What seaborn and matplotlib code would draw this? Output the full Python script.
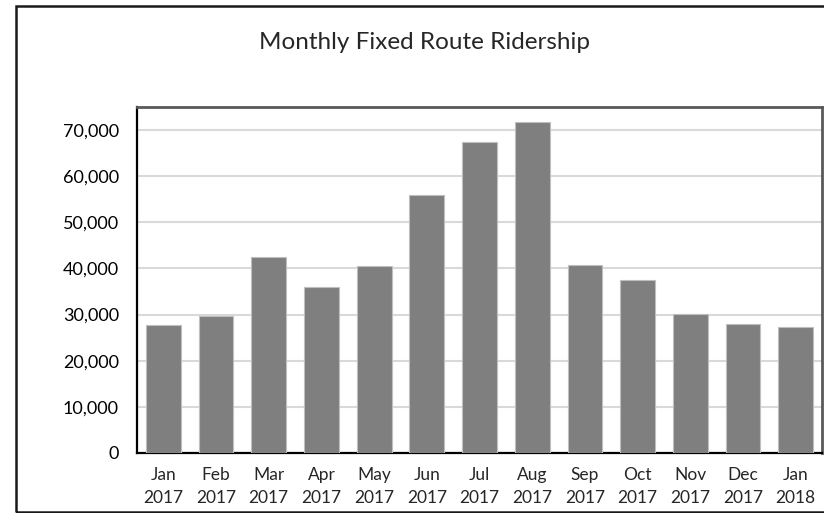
import pandas as pd
import matplotlib.pyplot as plt
import seaborn as sns
from matplotlib.patches import Rectangle
from matplotlib.ticker import FuncFormatter

# Monthly ridership values
months = ["Jan\n2017", "Feb\n2017", "Mar\n2017", "Apr\n2017", "May\n2017", "Jun\n2017",
          "Jul\n2017", "Aug\n2017", "Sep\n2017", "Oct\n2017", "Nov\n2017", "Dec\n2017",
          "Jan\n2018"]
riders = [27700, 29650, 42450, 35900, 40600, 55950, 67450, 71800, 40700, 37550, 30200,
          27900, 27400]
yticks = [0, 10000, 20000, 30000, 40000, 50000, 60000, 70000]

df = pd.DataFrame({"month": months, "riders": riders})

sns.set_style("white")
plt.rcParams['font.family'] = ['Lato', 'DejaVu Sans']

fig = plt.figure(figsize=(8.24, 5.13), dpi=100)
ax = fig.add_axes([0.1663, 0.117, 0.8313, 0.6744])

sns.barplot(data=df, x="month", y="riders", color="#7f7f7f", saturation=1,
            width=0.66, edgecolor="#bfbfbf", linewidth=0.8, ax=ax, zorder=3)

# Axis cosmetics
ax.set_ylim(0, 75000)
ax.set_yticks(yticks)
ax.yaxis.set_major_formatter(FuncFormatter(lambda v, p: f"{int(v):,}"))
ax.yaxis.grid(True, color="#d9d9d9", linewidth=1.5, zorder=0)
ax.tick_params(axis="y", length=0, pad=13, labelsize=13, labelcolor="#000000")

# tick marks between categories, labels at the centres
n = len(months)
ax.set_xlim(-0.5, n - 0.5)
ax.set_xticks([i - 0.5 for i in range(n + 1)])
ax.set_xticklabels([])
ax.set_xticks(range(n), minor=True)
ax.set_xticklabels(months, minor=True, fontsize=12.5, linespacing=1.55)
ax.tick_params(axis="x", which="major", length=6, width=1.3, color="black", direction="out")
ax.tick_params(axis="x", which="minor", length=0, pad=10)

ax.set_xlabel("")
ax.set_ylabel("")

for side in ["left", "bottom"]:
    ax.spines[side].set_color("black")
    ax.spines[side].set_linewidth(1.6)
for side in ["top", "right"]:
    ax.spines[side].set_visible(True)
    ax.spines[side].set_color("#595959")
    ax.spines[side].set_linewidth(2)

fig.text(0.515, 0.918, "Monthly Fixed Route Ridership", ha="center", va="center",
         fontsize=17.5)

# outer chart border
fig.patches.append(Rectangle((16 / 824, 1.5 / 513), 1.0, 505.5 / 513, transform=fig.transFigure,
                             fill=False, edgecolor="#1a1a1a", linewidth=1.8))

plt.savefig("out.png", dpi=100)
